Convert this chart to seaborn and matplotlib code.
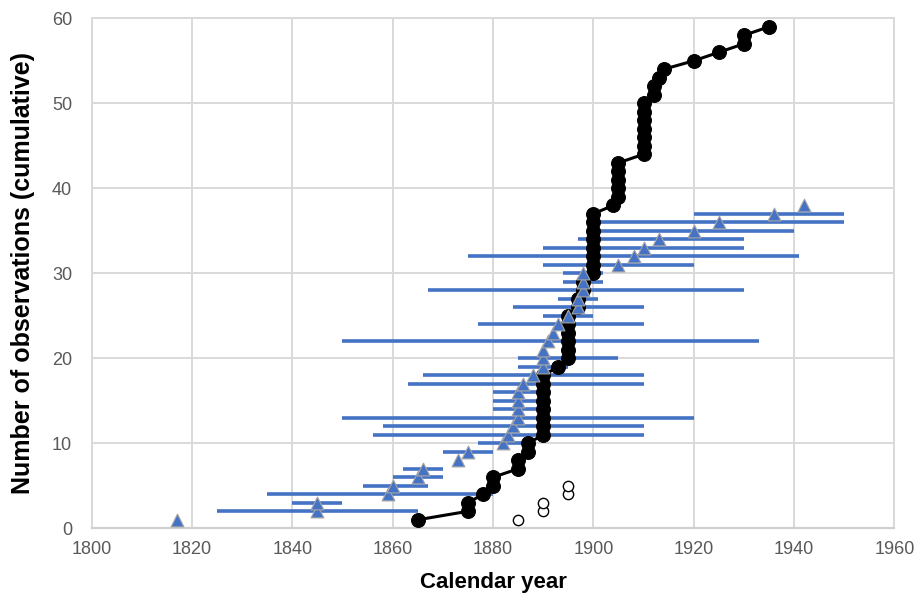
import matplotlib
matplotlib.use("Agg")
import matplotlib.pyplot as plt
import numpy as np
import pandas as pd
import seaborn as sns

sns.set_theme(style="whitegrid")
plt.rcParams['font.family'] = ['Liberation Sans', 'DejaVu Sans']

# --- data ---
# observed years (black, cumulative count 1..59)
obs_year = [1865, 1875, 1875, 1878, 1880, 1880, 1885, 1885, 1887, 1887,
            1890, 1890, 1890, 1890, 1890, 1890, 1890, 1890, 1893,
            1895, 1895, 1895, 1895, 1895, 1895,
            1897, 1897, 1898, 1898, 1900,
            1900, 1900, 1900, 1900, 1900, 1900, 1900, 1904,
            1905, 1905, 1905, 1905, 1905,
            1910, 1910, 1910, 1910, 1910, 1910, 1910,
            1912, 1912, 1913, 1914, 1920, 1925, 1930, 1930, 1935]
obs_count = list(range(1, len(obs_year) + 1))

# estimated years (blue triangles) with uncertainty range
est_year = [1817, 1845, 1845, 1859, 1860, 1865, 1866, 1873, 1875, 1882,
            1883, 1884, 1885, 1885, 1885, 1885, 1886, 1888, 1890, 1890,
            1890, 1891, 1892, 1893, 1895, 1897, 1897, 1898, 1898, 1898,
            1905, 1908, 1910, 1913, 1920, 1925, 1936, 1942]
est_low = [np.nan, 1825, 1840, 1835, 1854, 1860, 1862, np.nan, 1870, 1877,
           1856, 1858, 1850, 1880, 1880, 1880, 1863, 1866, 1885, 1885,
           np.nan, 1850, np.nan, 1877, 1890, 1884, 1893, 1867, 1894, 1894,
           1890, 1875, 1890, 1897, 1900, 1900, 1920, np.nan]
est_high = [np.nan, 1865, 1850, 1880, 1867, 1870, 1870, np.nan, 1880, 1887,
            1910, 1910, 1920, 1890, 1890, 1890, 1910, 1910, 1895, 1905,
            np.nan, 1933, np.nan, 1910, 1900, 1910, 1901, 1930, 1902, 1902,
            1920, 1941, 1930, 1930, 1940, 1950, 1950, np.nan]
est_count = list(range(1, len(est_year) + 1))

# open circles
open_year = [1885, 1890, 1890, 1895, 1895]
open_count = [1, 2, 3, 4, 5]

df_obs = pd.DataFrame({'year': obs_year, 'n': obs_count})
df_est = pd.DataFrame({'year': est_year, 'low': est_low, 'high': est_high, 'n': est_count})
df_open = pd.DataFrame({'year': open_year, 'n': open_count})

fig = plt.figure(figsize=(9.19, 6.0), dpi=100)
ax = fig.add_axes([0.0996, 0.1195, 0.8737, 0.85])

blue = '#4472C4'
grid = '#D9D9D9'

# horizontal uncertainty bars
bars = df_est.dropna()
ax.hlines(bars['n'], bars['low'], bars['high'], color=blue, linewidth=2.6, zorder=2)

# observed cumulative line
sns.lineplot(data=df_obs, x='year', y='n', estimator=None, sort=False, ax=ax,
             color='black', linewidth=2.2, marker='o', markersize=10,
             markeredgecolor='black', zorder=3)

# triangles
sns.scatterplot(data=df_est, x='year', y='n', ax=ax, marker='^', s=85,
                color=blue, edgecolor='#A5A5A5', linewidth=0.8, zorder=4)

# open circles
sns.scatterplot(data=df_open, x='year', y='n', ax=ax, marker='o', s=55,
                facecolor='white', edgecolor='black', linewidth=1.0, zorder=4)

ax.set_xlim(1800, 1960)
ax.set_ylim(0, 60)
ax.set_xticks(np.arange(1800, 1961, 20))
ax.set_yticks(np.arange(0, 61, 10))
ax.grid(True, color=grid, linewidth=1.4)
for side in ['left', 'right', 'top']:
    ax.spines[side].set_color(grid)
    ax.spines[side].set_linewidth(1.4)
ax.spines['bottom'].set_color('#D0D0D0')
ax.spines['bottom'].set_linewidth(1.6)
ax.tick_params(axis='both', length=0, labelsize=13, labelcolor='#595959')
ax.tick_params(axis='x', pad=9)
ax.tick_params(axis='y', pad=14)

ax.set_xlabel('Calendar year', fontsize=16, fontweight='bold', color='black', labelpad=10)
ax.set_ylabel('Number of observations (cumulative)', fontsize=18, fontweight='bold',
              color='black')
ax.yaxis.set_label_coords(-0.071, 0.5)

fig.savefig('out.png', dpi=100)
